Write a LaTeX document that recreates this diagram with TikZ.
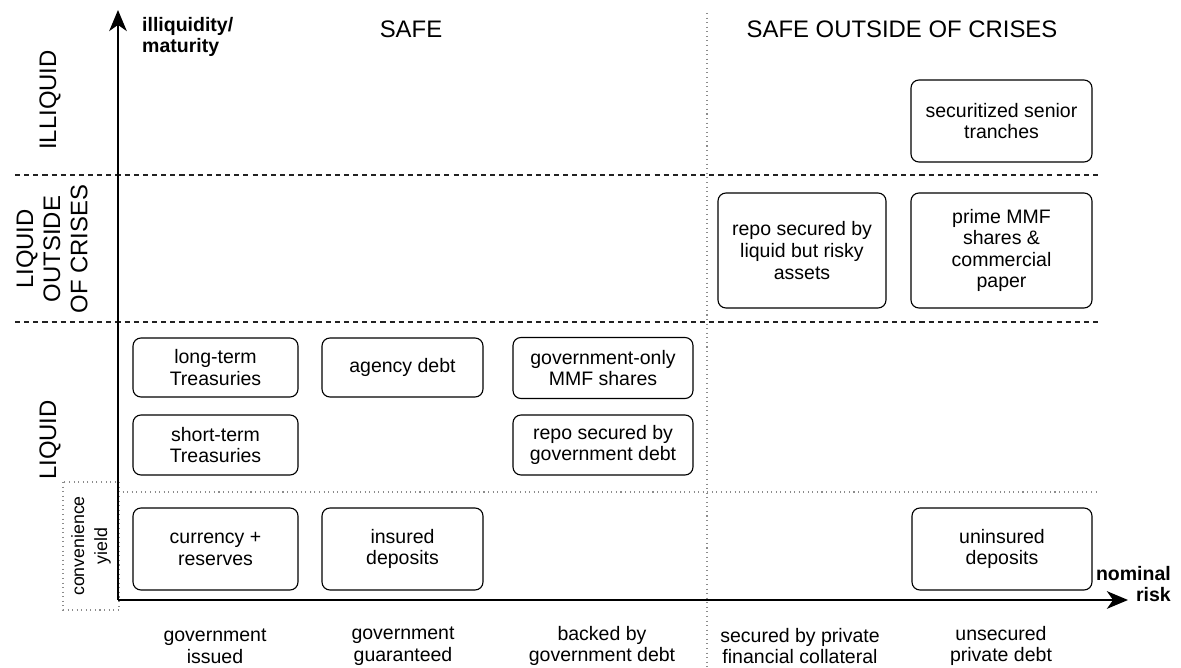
\documentclass[tikz,border=0pt]{standalone}
\usepackage{fontspec}
\setmainfont{Liberation Sans}
\usepackage{xcolor}
\usetikzlibrary{arrows.meta,positioning}
\definecolor{ink}{HTML}{000000}
\definecolor{rule}{HTML}{222222}
\definecolor{dots}{HTML}{8C8C8C}
\tikzset{
  font=\fontsize{11.1}{12.3}\selectfont,
  >={Stealth[length=12pt,width=10pt,inset=3.5pt]},
  asset/.style={
    draw=ink, rounded corners=4.5pt, line width=0.65pt, fill=white,
    text=ink, align=center, inner sep=3pt, minimum width=3.3cm,
    minimum height=1.2cm
  },
  tallasset/.style={asset, minimum height=1.64cm},
  axis/.style={->, line width=1.3pt, draw=ink},
  band/.style={line width=0.6pt, draw=rule, dash pattern=on 2.9pt off 2.3pt},
  split/.style={line width=0.6pt, draw=dots, dotted},
  rowlabel/.style={rotate=90, align=center, text=ink, font=\fontsize{13.6}{15.4}\selectfont},
  cybox/.style={rotate=90, draw=dots, dotted, line width=0.6pt, align=center,
    minimum width=2.56cm, minimum height=1.12cm, inner sep=1pt,
    font=\fontsize{10.1}{13}\selectfont},
  collabel/.style={align=center, text=ink},
  heading/.style={text=ink, font=\fontsize{13.6}{15.4}\selectfont},
  axislabel/.style={text=ink, font=\bfseries\fontsize{11.1}{12}\selectfont}
}

\begin{document}
\begin{tikzpicture}[x=0.02cm,y=-0.02cm]
  \useasboundingbox (0,0) rectangle (1181,668);

  % grid of bands
  \coordinate (b1w) at (15,175);  \coordinate (b1e) at (1099,175);
  \coordinate (b2w) at (15,322);  \coordinate (b2e) at (1099,322);
  \coordinate (cyw) at (118,492); \coordinate (cye) at (1099,492);
  \coordinate (vtop) at (707,13); \coordinate (vbot) at (707,668);
  \draw[band] (b1w) -- (b1e);
  \draw[band] (b2w) -- (b2e);
  \draw[split] (cyw) -- (cye);
  \draw[split] (vtop) -- (vbot);

  \node[cybox] (cy) at (91,546) {convenience\\yield};

  % axes
  \coordinate (o) at (118,600);
  \coordinate (ytip) at (118,10);
  \coordinate (xtip) at (1128,600);
  \draw[axis] (o) -- (ytip);
  \draw[axis] (o) -- (xtip);
  \node[axislabel, anchor=west, align=left] (ylab) at (136,37) {illiquidity/\\maturity};
  \node[axislabel, anchor=east, align=right] (xlab) at (1177,584) {nominal\\risk};

  % headings
  \node[heading] (safe) at (411,29) {SAFE};
  \node[heading] (safeoc) at (902,29) {SAFE OUTSIDE OF CRISES};
  \node[rowlabel] (illiq) at (50,100) {ILLIQUID};
  \node[rowlabel] (liqoc) at (52,249) {LIQUID\\OUTSIDE\\OF CRISES};
  \node[rowlabel] (liq) at (50,440) {LIQUID};

  % assets
  \node[asset, minimum width=3.3cm,  minimum height=1.18cm] (ltt) at (215.5,367.5) {long-term\\Treasuries};
  \node[asset, minimum width=3.22cm, minimum height=1.18cm] (agd) at (402.5,367.5) {agency debt};
  \node[asset, minimum width=3.6cm,  minimum height=1.22cm] (gmmf) at (603,368) {government-only\\MMF shares};
  \node[asset, minimum width=3.3cm]  (stt) at (215.5,445) {short-term\\Treasuries};
  \node[asset, minimum width=3.6cm]  (rgov) at (603,445) {repo secured by\\government debt};
  \node[tallasset, minimum width=3.3cm]  (cur) at (215.5,549) {currency +\\reserves};
  \node[tallasset, minimum width=3.22cm] (ins) at (402.5,549) {insured\\deposits};
  \node[tallasset, minimum width=3.6cm]  (unins) at (1002,549) {uninsured\\deposits};
  \node[tallasset, minimum width=3.62cm] (sec) at (1001.5,121) {securitized senior\\tranches};
  \node[asset, minimum width=3.36cm, minimum height=2.3cm] (rrisk) at (802,250.5) {repo secured by\\liquid but risky\\assets};
  \node[asset, minimum width=3.62cm, minimum height=2.3cm] (prime) at (1001.5,250.5) {prime MMF\\shares \&\\commercial\\paper};

  % risk classes
  \node[collabel] (c1) at (215,646) {government\\issued};
  \node[collabel] (c2) at (403,646) {government\\guaranteed};
  \node[collabel] (c3) at (602,646) {backed by\\government debt};
  \node[collabel] (c4) at (800,646) {secured by private\\financial collateral};
  \node[collabel] (c5) at (1001,646) {unsecured\\private debt};
\end{tikzpicture}
\end{document}
